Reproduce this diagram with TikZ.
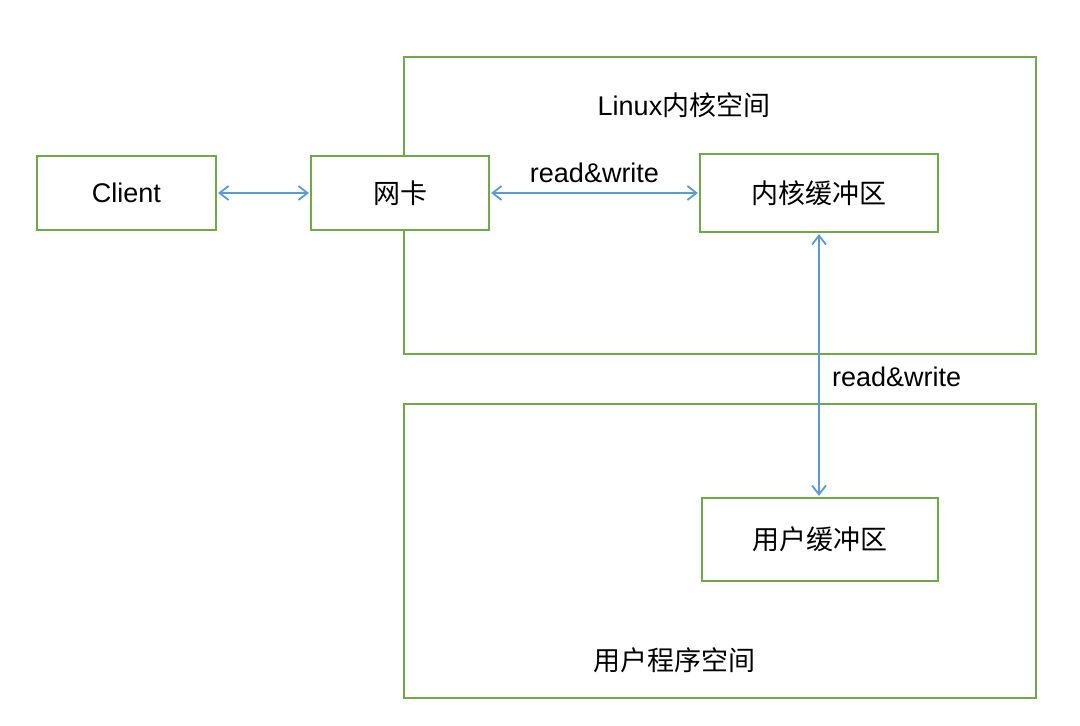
\documentclass[tikz,border=0pt]{standalone}
\usepackage{fontspec}
\setmainfont{Liberation Sans}
\newfontfamily\cjk{Noto Sans CJK SC}
\usetikzlibrary{arrows.meta}
\definecolor{boxgreen}{RGB}{112,168,70}
\definecolor{arrblue}{RGB}{91,155,213}
\begin{document}
\begin{tikzpicture}[x=1pt,y=-1pt,
  box/.style={draw=boxgreen, line width=2.2pt, inner sep=0pt, font=\fontsize{27}{32}\selectfont},
  area/.style={draw=boxgreen, line width=2.2pt, inner sep=0pt},
  lbl/.style={font=\fontsize{27}{32}\selectfont, inner sep=0pt},
  conn/.style={draw=arrblue, line width=2.2pt, {Straight Barb[length=9pt,width=14pt,line width=1.8pt]}-{Straight Barb[length=9pt,width=14pt,line width=1.8pt]}, shorten <=1pt, shorten >=1pt}
]
\useasboundingbox (0,0) rectangle (1080,726);
% areas
\node[area, minimum width=632pt, minimum height=297pt] (kernel) at (720,205.5) {};
\node[area, minimum width=632pt, minimum height=294pt] (user) at (720,551) {};
\node[lbl] (kernellbl) at (684,105) {Linux{\cjk 内核空间}};
\node[lbl] (userlbl) at (674,660) {\cjk 用户程序空间};
% boxes
\node[box, fill=white, minimum width=179pt, minimum height=74pt] (client) at (126.5,193) {Client};
\node[box, fill=white, minimum width=178pt, minimum height=74pt] (nic) at (400,193) {\cjk 网卡};
\node[box, fill=white, minimum width=238pt, minimum height=78pt] (kbuf) at (819,193) {\cjk 内核缓冲区};
\node[box, fill=white, minimum width=236pt, minimum height=83pt] (ubuf) at (820,539.5) {\cjk 用户缓冲区};
% connectors
\draw[conn] (client.east) -- (nic.west);
\draw[conn] (nic.east) -- node[lbl, anchor=base, yshift=11pt] (rw1) {read\&write} (kbuf.west);
\draw[conn] (kbuf.south -| 819,0) -- node[lbl, pos=0.583, anchor=base west, xshift=12pt] (rw2) {read\&write} (ubuf.north -| 819,0);
\end{tikzpicture}
\end{document}
